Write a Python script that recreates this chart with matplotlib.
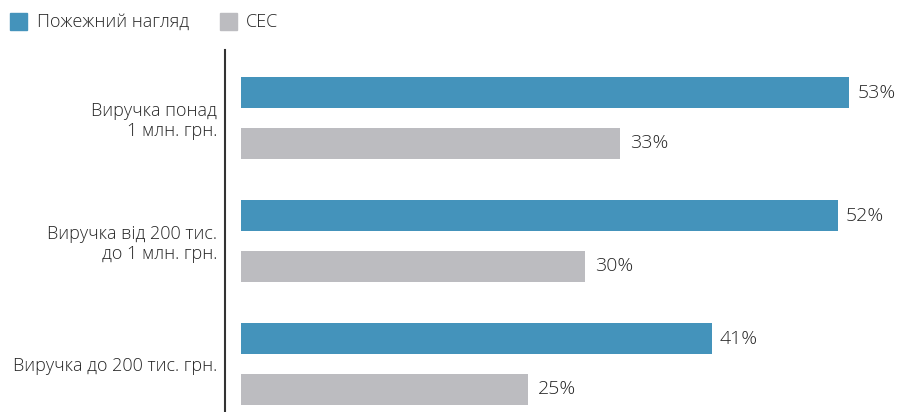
import matplotlib.pyplot as plt
from matplotlib.patches import Rectangle

plt.rcParams['font.family'] = ['Open Sans', 'DejaVu Sans']
plt.rcParams['font.weight'] = 'light'

categories = ["Виручка понад\n1 млн. грн.",
              "Виручка від 200 тис.\nдо 1 млн. грн.",
              "Виручка до 200 тис. грн."]
series_names = ["Пожежний нагляд", "СЕС"]
fire = [53, 52, 41]
ses = [33, 30, 25]

blue = "#4493bb"
grey = "#bcbcc0"
txt = "#262626"

W, H = 898, 412
fig = plt.figure(figsize=(W / 100, H / 100), dpi=100)

# axes spans from the vertical line to the right edge
ax = fig.add_axes([225 / W, 0, 1 - 225 / W, (H - 50) / H])

px = 11.48  # pixels per percent
ax.set_xlim(-16 / px, (W - 241) / px)
ax.set_ylim(2.39, -0.553)

pos = list(range(len(categories)))
off = 0.205
h = 0.252
ax.barh([p - off for p in pos], fire, height=h, color=blue)
ax.barh([p + off for p in pos], ses, height=h, color=grey)

for p, v in zip(pos, fire):
    ax.text(v + 8 / px, p - off, f"{v}%", va="center", ha="left", fontsize=14, color=txt)
for p, v in zip(pos, ses):
    ax.text(v + 10 / px, p + off, f"{v}%", va="center", ha="left", fontsize=14, color=txt)

for s in ["top", "right", "bottom"]:
    ax.spines[s].set_visible(False)
ax.spines["left"].set_color("#333333")
ax.spines["left"].set_linewidth(1.5)
ax.set_xticks([])
ax.set_yticks(pos)
ax.set_yticklabels(categories, fontsize=13, color=txt, linespacing=1.15)
ax.tick_params(axis="y", length=0, pad=5.8)
for lab in ax.get_yticklabels():
    lab.set_horizontalalignment("right")

# legend
fig.add_artist(Rectangle((10 / W, 1 - 30 / H), 17 / W, 17 / H, color=blue, transform=fig.transFigure))
fig.text(37 / W, 1 - 22 / H, series_names[0], va="center", ha="left", fontsize=13, color=txt)
fig.add_artist(Rectangle((220 / W, 1 - 30 / H), 17 / W, 17 / H, color=grey, transform=fig.transFigure))
fig.text(246 / W, 1 - 22 / H, series_names[1], va="center", ha="left", fontsize=13, color=txt)

fig.savefig("out.png", dpi=100)
